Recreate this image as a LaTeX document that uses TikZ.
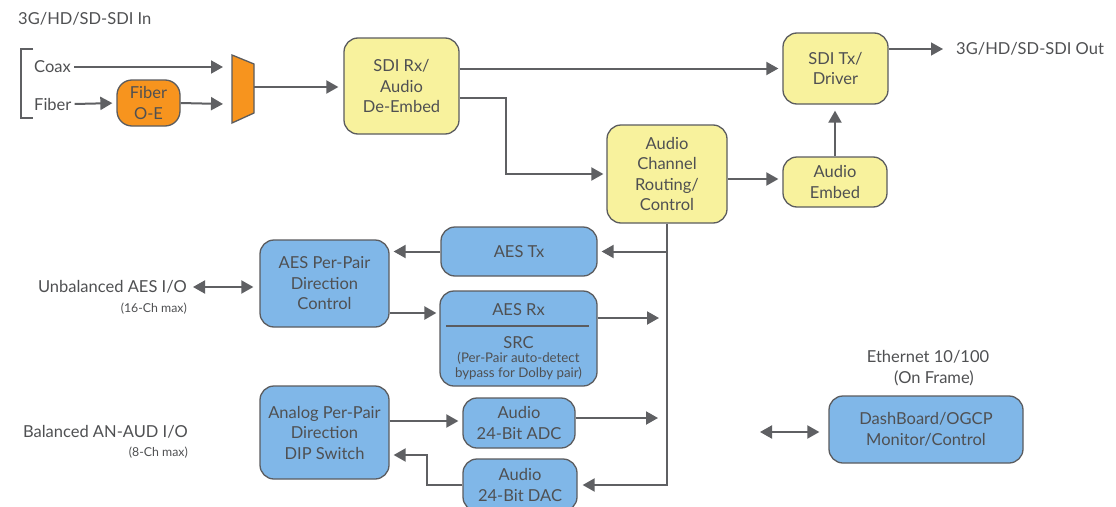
\documentclass[tikz,border=0pt]{standalone}
\usepackage{fontspec}
\setmainfont{Lato}
\usetikzlibrary{arrows.meta,calc}
\definecolor{txtc}{HTML}{4F5052}
\definecolor{bordc}{HTML}{5B5C5F}
\definecolor{linec}{HTML}{5F6063}
\definecolor{yel}{HTML}{F8F29D}
\definecolor{blu}{HTML}{80B7E8}
\definecolor{org}{HTML}{F7941E}
\newcommand\mainfs{\fontsize{16.5}{20.5}\selectfont}
\newcommand\smallfs{\fontsize{12.3}{14}\selectfont}
\newcommand\tinyfs{\fontsize{13.3}{14.5}\selectfont}
\tikzset{
  box/.style={draw=bordc, line width=1.3pt, rounded corners=14pt, align=center,
    inner sep=0pt, font=\mainfs, text=txtc},
  ybox/.style={box, fill=yel},
  bbox/.style={box, fill=blu},
  lbl/.style={inner sep=0pt, font=\mainfs, text=txtc},
  slbl/.style={inner sep=0pt, font=\smallfs, text=txtc},
  arr/.style={draw=linec, line width=2pt, -{Triangle[length=12pt,width=13pt]}},
  darr/.style={draw=linec, line width=2pt, {Triangle[length=12pt,width=13pt]}-{Triangle[length=12pt,width=13pt]}},
  plain/.style={draw=linec, line width=1.6pt},
}
\begin{document}
\begin{tikzpicture}[x=1pt,y=-1pt]
\useasboundingbox (0,0) rectangle (1116,506);
\fill[white] (0,0) rectangle (1116,506);
\clip (0,0) rectangle (1116,506);

% input section
\node[lbl, anchor=west] (sdiin) at (18,19) {3G/HD/SD-SDI In};
\coordinate (brT) at (33,49);
\coordinate (brB) at (33,118);
\draw[plain] (brT) -- (21,49) -- (21,118) -- (brB);
\node[lbl, anchor=west] (coax) at (34,67) {Coax};
\node[lbl, anchor=west] (fiber) at (34,104) {Fiber};
\node[box, fill=org, minimum width=63pt, minimum height=46pt, rounded corners=15pt] (oe) at (148.5,103) {Fiber\\O-E};
\coordinate (m1) at (223,67);
\coordinate (m2) at (223,104);
\draw[draw=bordc, line width=1.3pt, fill=org] (232,55) -- (254,64) -- (254,113) -- (232,123) -- cycle;
\coordinate (mux) at (254,87);
\draw[arr] (coax.east) ++(3,0) -- (m1);
\draw[arr, shorten >=4pt] (fiber.east) ++(3,0) -- (oe.west);
\draw[arr] (oe.east) -- (m2);

% top yellow blocks
\node[ybox, minimum width=115pt, minimum height=96pt] (rx) at (401.5,86) {SDI Rx/\\Audio\\De-Embed};
\node[ybox, minimum width=105pt, minimum height=71pt] (tx) at (835.5,68.5) {SDI Tx/\\Driver};
\node[ybox, minimum width=104pt, minimum height=50pt] (emb) at (835,182) {Audio\\Embed};
\node[ybox, minimum width=120pt, minimum height=98pt] (route) at (667,174) {Audio\\Channel\\Routing/\\Control};
\node[lbl, anchor=west] (out) at (956,49) {3G/HD/SD-SDI Out};

\draw[arr, shorten >=5pt] (mux) -- (mux -| rx.west);
\draw[arr, shorten >=4pt] (rx.east |- tx.west) -- (tx.west);
\coordinate (rbend) at (506,98);
\draw[arr, shorten >=3pt] (rx.east |- rbend) -- (rbend) |- (route.west);
\draw[arr, shorten >=4pt] ([yshift=-5pt]route.east) -- ([yshift=-5pt]route.east -| emb.west);
\draw[arr, shorten >=6pt] (emb.north) -- (emb.north |- tx.south);
\draw[arr, line width=1.3pt, shorten >=13pt] (tx.east |- out.west) -- (out.west);

% AES section
\node[bbox, minimum width=129pt, minimum height=87pt] (aesdir) at (324.5,283.5) {AES Per-Pair\\Direction\\Control};
\node[bbox, minimum width=156pt, minimum height=49pt] (aestx) at (519,251.5) {AES Tx};
\node[bbox, minimum width=157pt, minimum height=95pt] (aesrx) at (518.5,338.5) {};
\node[lbl] (aesrxt) at (518.5,310) {AES Rx};
\node[lbl] (src) at (518.5,343) {SRC};
\node[lbl, font=\tinyfs, align=center] (srcn) at (518.5,366) {(Per-Pair auto-detect\\bypass for Dolby pair)};
\draw[draw=bordc, line width=1.3pt] (446,326) -- (589,326);
\node[lbl, anchor=east] (unb) at (187,287) {Unbalanced AES I/O};
\node[slbl, anchor=east] (unb16) at (187,309) {(16-Ch max)};

\coordinate (rxend) at (659,318);
\draw[darr, shorten <=6pt, shorten >=6pt] (unb.east) -- (aesdir.west |- unb.east);
\draw[arr, shorten >=4pt] (route.south |- aestx.east) -- (aestx.east);
\draw[arr, shorten >=4pt] (aestx.west) -- (aestx.west -| aesdir.east);
\draw[arr, line width=2.4pt, shorten >=3pt] (aesdir.east |- 0,313) -- (aesrx.west |- 0,313);
\draw[arr] (aesrx.east |- rxend) -- (rxend);

% analog section
\node[bbox, minimum width=129pt, minimum height=93pt] (analog) at (324.5,432.5) {Analog Per-Pair\\Direction\\DIP Switch};
\node[bbox, minimum width=112pt, minimum height=50pt] (adc) at (519,423) {Audio\\24-Bit ADC};
\node[bbox, minimum width=114pt, minimum height=52pt] (dac) at (520,485) {Audio\\24-Bit DAC};
\node[lbl, anchor=east] (bal) at (188,432) {Balanced AN-AUD I/O};
\node[slbl, anchor=east] (bal8) at (188,453) {(8-Ch max)};
\coordinate (adcend) at (658,418);
\coordinate (dacbend) at (427,455);
\draw[arr, shorten >=4pt] (analog.east |- 0,421) -- (adc.west |- 0,421);
\draw[arr] (adc.east |- adcend) -- (adcend);
\draw[arr, shorten >=5pt] (route.south) |- (dac.east);
\draw[arr, shorten >=4pt] (dac.west) -| (dacbend) -- (dacbend -| analog.east);

% ethernet
\node[lbl, align=center] (eth) at (928,368) {Ethernet 10/100\\\hspace*{12pt}(On Frame)};
\node[bbox, minimum width=194pt, minimum height=67pt] (dash) at (926,429.5) {DashBoard/OGCP\\Monitor/Control};
\coordinate (ethL) at (760,432);
\draw[darr, shorten >=9pt] (ethL) -- (ethL -| dash.west);
\end{tikzpicture}
\end{document}
